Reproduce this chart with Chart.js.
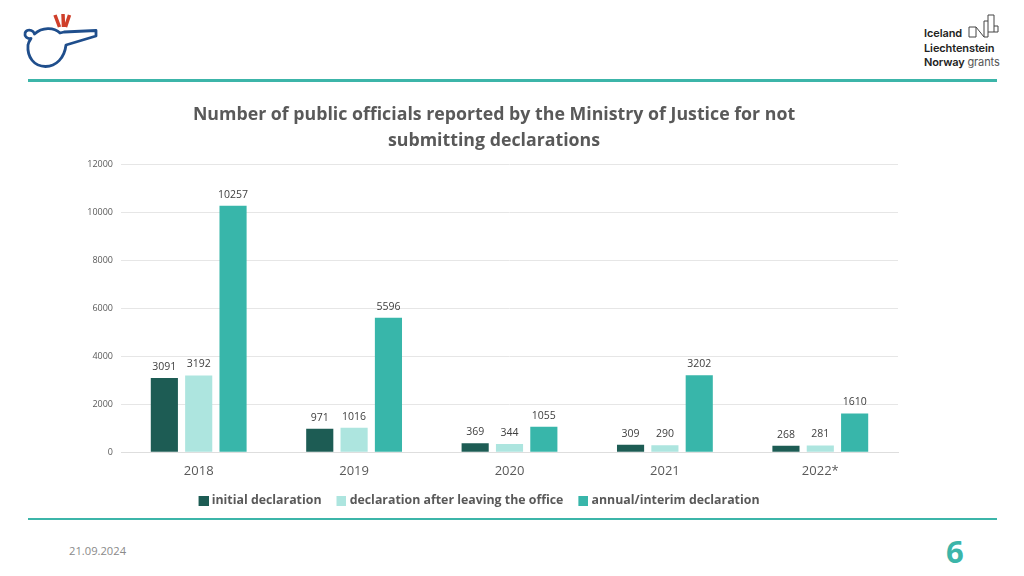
<!DOCTYPE html>
<html>
<head>
<meta charset="utf-8">
<title>Public officials reported</title>
<style>
  html, body { margin: 0; padding: 0; background: #fff; }
  #page { position: relative; width: 1024px; height: 576px; overflow: hidden; font-family: "Open Sans", sans-serif; }
  #page canvas { position: absolute; left: 0; top: 0; }
  .rule { position: absolute; left: 28px; width: 969px; background: #3cb5a9; }
  .date { position: absolute; left: 69px; top: 543px; font-size: 11.200px; color: #8a8a8a; }
  .num { position: absolute; left: 946px; top: 531px; font-size: 31px; font-weight: 700; color: #3cb5a9; line-height: 40px; }
  .eea { position: absolute; left: 924px; top: 26px; font-family: Inter, sans-serif; font-size: 11px; font-weight: 600; line-height: 14.500px; color: #222; letter-spacing: -.1px; }
  .eea span { font-weight: 400; color: #555; }
</style>
</head>
<body>
<div id="page">
  <svg width="110" height="75" style="position:absolute;left:0;top:0" fill="none">
    <path d="M64 32 L96 30.500 L96 36 L66 45 C 64.500 58 56 66.500 45.500 66.500 C 34 66.500 27 57 28 45 C 28.500 42 30 40 31 38.500 C 27 39 24.500 36.500 25 33.500 C 25.500 30 30 29 33 31.500 C 34 32.500 34.500 34 34.500 34 C 42 27 54 27 60 33 Z" stroke="#1f4e8c" stroke-width="2.800" stroke-linejoin="round"/>
    <path d="M55 15 L59.500 27 M63 14 L63.500 27 M69.500 15 L65.500 27" stroke="#cf3f2a" stroke-width="3.500"/>
  </svg>
  <div class="rule" style="top:79px;height:3px"></div>
  <div class="rule" style="top:518px;height:2px"></div>
  <div class="eea">Iceland<br>Liechtenstein<br>Norway <span>grants</span></div>
  <svg width="34" height="26" style="position:absolute;left:968px;top:14px" fill="none" stroke="#444" stroke-width="1">
    <path d="M1 13 H8 V23 H1 Z M8 13 L16 23 V7 H20 V1 H26 V18 M20 7 V23 H16 M26 12 H30 V18 H20"/>
  </svg>
  <div class="date">21.09.2024</div>
  <div class="num">6</div>
  <canvas id="chart" width="1024" height="576"></canvas>
</div>
<script src="https://cdn.jsdelivr.net/npm/chart.js@4/dist/chart.umd.min.js"></script>
<script>
const years = ['2018', '2019', '2020', '2021', '2022*'];
const initialDeclaration = [3091, 971, 369, 309, 268];
const afterLeavingOffice = [3192, 1016, 344, 290, 281];
const annualInterim = [10257, 5596, 1055, 3202, 1610];
const titleLines = ['Number of public officials reported by the Ministry of Justice for not', 'submitting declarations'];

const GREY = '#595959';
const FONT = '"Open Sans", sans-serif';

// legend swatch with the square on the right, so the text sits closer than Chart.js would put it
function swatch(color) {
  const c = document.createElement('canvas');
  c.width = 13;
  c.height = 10;
  const g = c.getContext('2d');
  g.fillStyle = color;
  g.fillRect(3, 0, 10, 10);
  return c;
}

// value above each bar
const barValues = {
  id: 'barValues',
  afterDatasetsDraw(chart) {
    const { ctx } = chart;
    ctx.save();
    ctx.font = '10.500px ' + FONT;
    ctx.fillStyle = '#404040';
    ctx.textAlign = 'center';
    ctx.textBaseline = 'middle';
    chart.data.datasets.forEach((ds, i) => {
      chart.getDatasetMeta(i).data.forEach((bar, j) => {
        ctx.fillText(ds.data[j], bar.x, bar.y - 11);
      });
    });
    ctx.restore();
  },
};

// title and legend are not centred on the plot in the original slide
const shiftBoxes = {
  id: 'shiftBoxes',
  afterLayout(chart) {
    const place = (box, center) => {
      const half = (box.right - box.left) / 2;
      box.left = center - half;
      box.right = center + half;
    };
    place(chart.titleBlock, 494);
    place(chart.legend, 479);
  },
};

new Chart(document.getElementById('chart'), {
  type: 'bar',
  data: {
    labels: years,
    datasets: [
      { label: 'initial declaration', data: initialDeclaration, backgroundColor: '#1d5c54', pointStyle: swatch('#1d5c54') },
      { label: 'declaration after leaving the office', data: afterLeavingOffice, backgroundColor: '#ade5df', pointStyle: swatch('#ade5df') },
      { label: 'annual/interim declaration', data: annualInterim, backgroundColor: '#38b6aa', pointStyle: swatch('#38b6aa') },
    ],
  },
  options: {
    responsive: false,
    animation: false,
    devicePixelRatio: 1,
    layout: { padding: { top: 102, right: 126, bottom: 59, left: 0 } },
    datasets: { bar: { categoryPercentage: 0.663, barPercentage: 0.79 } },
    plugins: {
      title: {
        display: true,
        text: titleLines,
        color: GREY,
        font: { family: FONT, size: 17.750, weight: '700', lineHeight: 1.465 },
        padding: { top: 0, bottom: 10 },
      },
      legend: {
        position: 'bottom',
        labels: {
          usePointStyle: true,
          pointStyleWidth: 7,
          boxHeight: 10,
          padding: 15,
          color: GREY,
          font: { family: FONT, size: 12.350, weight: '700' },
        },
      },
      tooltip: { enabled: false },
    },
    scales: {
      x: {
        afterFit(scale) { scale.height = 27.500; },
        grid: { display: false },
        border: { color: '#dedede' },
        ticks: { color: GREY, font: { family: FONT, size: 13 }, padding: 3.500 },
      },
      y: {
        min: 0,
        max: 12000,
        afterFit(scale) { scale.width = 121; },
        grid: { color: '#e6e6e6', drawTicks: false },
        border: { display: false },
        ticks: { stepSize: 2000, color: GREY, font: { family: FONT, size: 9 }, padding: 8, callback: v => String(v) },
      },
    },
  },
  plugins: [barValues, shiftBoxes],
});
</script>
</body>
</html>
